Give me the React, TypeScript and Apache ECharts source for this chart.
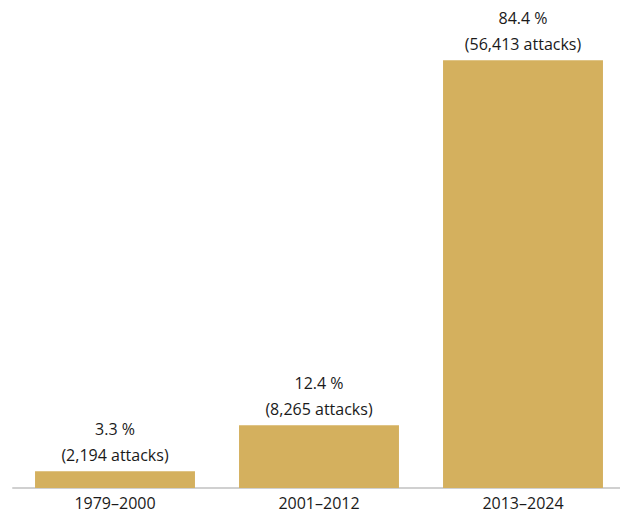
import React, { useEffect, useRef } from "react";
import * as echarts from "echarts";

const categories = ["1979–2000", "2001–2012", "2013–2024"];
const percentages = [3.3, 12.4, 84.4];
const attacks = ["2,194", "8,265", "56,413"];

export default function App() {
  const ref = useRef<HTMLDivElement>(null);
  useEffect(() => {
    if (!ref.current) return;
    const chart = echarts.init(ref.current, null, { renderer: "svg" });
    chart.setOption({
      animation: false,
      grid: { left: 13, width: 612, top: 32, bottom: 27, containLabel: false },
      xAxis: {
        type: "category",
        data: categories,
        axisLine: { show: true, lineStyle: { color: "#d0d0d0", width: 2 } },
        axisTick: { show: false },
        axisLabel: {
          color: "#1a1a1a",
          fontSize: 16,
          lineHeight: 17,
          fontFamily: "Open Sans",
          margin: 6,
        },
      },
      yAxis: {
        type: "value",
        min: 0,
        max: 90,
        show: false,
        splitLine: { show: false },
      },
      series: [
        {
          type: "bar",
          data: percentages,
          barCategoryGap: "21.6%",
          itemStyle: { color: "#d4b05e" },
          label: {
            show: true,
            position: "top",
            distance: 3,
            color: "#1a1a1a",
            fontSize: 16,
            lineHeight: 26,
            fontFamily: "Open Sans",
            formatter: (p: any) =>
              `${percentages[p.dataIndex]} %\n(${attacks[p.dataIndex]} attacks)`,
          },
        },
      ],
    });
    return () => chart.dispose();
  }, []);
  return (
    <div style={{ position: "absolute", left: 0, top: 0, width: 620, height: 515, overflow: "hidden" }}>
      <div ref={ref} style={{ width: 640, height: 515 }} />
    </div>
  );
}
